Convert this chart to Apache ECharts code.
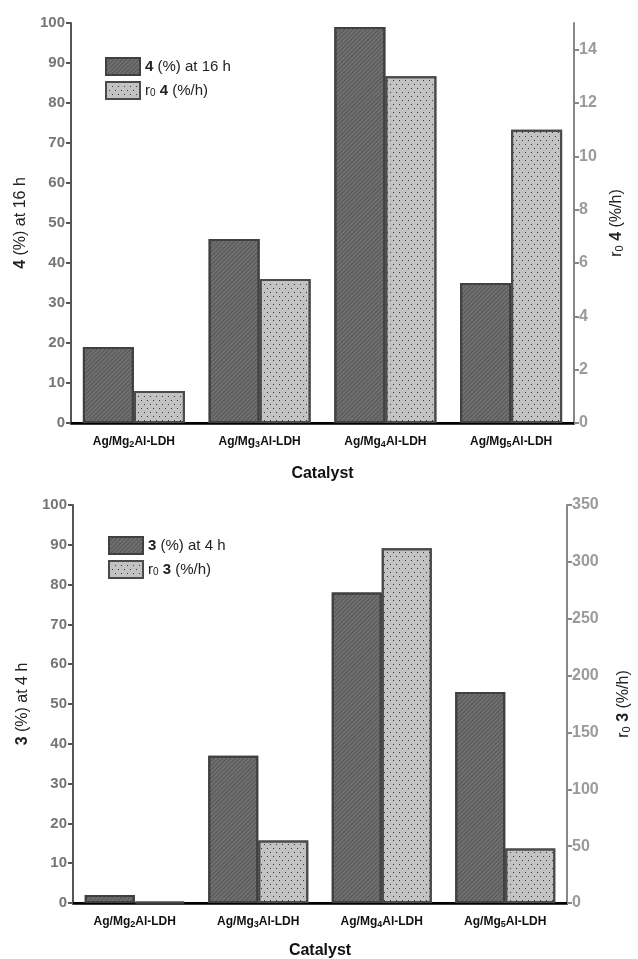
<!DOCTYPE html>
<html><head><meta charset="utf-8">
<script src="https://cdn.jsdelivr.net/npm/echarts@6/dist/echarts.min.js"></script>
<style>html,body{margin:0;padding:0;background:#fff}#c{width:638px;height:959px}</style>
</head><body><div id="c"></div>
<script>
const categories = ['Ag/Mg2Al-LDH','Ag/Mg3Al-LDH','Ag/Mg4Al-LDH','Ag/Mg5Al-LDH'];
const top_conv16h = [19, 46, 99, 35];
const top_rate = [1.2, 5.4, 13, 11];
const bot_conv4h = [2, 37, 78, 53];
const bot_rate = [1, 55, 312, 48];

const FONT = '"Liberation Sans", Arial, sans-serif';
const darkDecal = {symbol:'rect', dashArrayX:[1,0], dashArrayY:[1,2], rotation:-Math.PI/4, color:'rgba(45,45,45,0.4)'};
const dotDecal = {symbol:'rect', symbolSize:1, dashArrayX:[[1,5],[0,3,1,2]], dashArrayY:[1,3], color:'#3a3a3a'};
const darkStyle = {color:'#707070', borderColor:'#404040', borderWidth:2, decal:darkDecal};
const lightStyle = {color:'#c2c2c2', borderColor:'#4a4a4a', borderWidth:2, decal:dotDecal};

const chart = echarts.init(document.getElementById('c'), null, {renderer:'canvas'});

function xCat(gi, nameGap){
  return {type:'category', gridIndex:gi, data:categories, position:'bottom',
    axisLine:{lineStyle:{color:'#000', width:2.5}}, axisTick:{show:false},
    axisLabel:{interval:0, margin:12, color:'#111', fontFamily:FONT, fontSize:12, fontWeight:'bold',
      formatter:v=>v.replace(/Mg(\d)/,'Mg{s|$1}'),
      rich:{s:{fontSize:9, fontWeight:'bold', fontFamily:FONT, color:'#111', verticalAlign:'bottom', padding:[5,0,0,0]}}},
    name:'Catalyst', nameLocation:'middle', nameGap:nameGap,
    nameTextStyle:{fontFamily:FONT, fontSize:16, fontWeight:'bold', color:'#111'}};
}
function xTop(gi){
  return {type:'category', gridIndex:gi, data:categories, position:'top',
    axisLine:{lineStyle:{color:'#000', width:2}}, axisTick:{show:false}, axisLabel:{show:false}};
}
const nameRich = {
  b:{fontWeight:'bold', fontSize:16, fontFamily:FONT, color:'#222'},
  n:{fontSize:16, fontFamily:FONT, color:'#222'},
  s:{fontSize:11, fontFamily:FONT, color:'#222', verticalAlign:'bottom', padding:[6,0,0,0]}
};
function yLeft(gi, name, gap){
  return {type:'value', gridIndex:gi, min:0, max:100, interval:10, position:'left',
    splitLine:{show:false},
    axisLine:{show:true, lineStyle:{color:'#555', width:2}},
    axisTick:{show:true, length:5, lineStyle:{color:'#555', width:2}},
    axisLabel:{color:'#757575', fontFamily:FONT, fontSize:15, fontWeight:'bold', margin:6},
    name:name, nameLocation:'middle', nameRotate:90, nameGap:gap,
    nameTextStyle:{rich:nameRich}};
}
function yRight(gi, max, interval, name, gap){
  return {type:'value', gridIndex:gi, min:0, max:max, interval:interval, position:'right',
    splitLine:{show:false},
    axisLine:{show:true, lineStyle:{color:'#888', width:2}},
    axisTick:{show:true, length:5, lineStyle:{color:'#888', width:2}},
    axisLabel:{color:'#9a9a9a', fontFamily:FONT, fontSize:16, fontWeight:'bold', margin:5, showMaxLabel: max % interval === 0},
    name:name, nameLocation:'middle', nameRotate:90, nameGap:gap,
    nameTextStyle:{rich:nameRich}};
}
const legendRich = {b:{fontWeight:'bold', fontSize:15, fontFamily:FONT, color:'#222'},
  n:{fontSize:15, fontFamily:FONT, color:'#222'},
  s:{fontSize:10, fontFamily:FONT, color:'#222', verticalAlign:'bottom', padding:[6,0,0,0]}};
const legendNames = {
  'c16':'{b|4}{n| (%) at 16 h}', 'r4':'{n|r}{s|0}{n| }{b|4}{n| (%/h)}',
  'c4':'{b|3}{n| (%) at 4 h}', 'r3':'{n|r}{s|0}{n| }{b|3}{n| (%/h)}'
};
function legend(names, left, top){
  return {data:names, orient:'vertical', left:left, top:top, itemWidth:34, itemHeight:17, itemGap:5,
    icon:'rect', formatter:n=>legendNames[n], textStyle:{rich:legendRich}, selectedMode:false};
}

chart.setOption({
  animation:false,
  grid:[
    {left:71, right:64, top:23, height:400, outerBoundsMode:'none', containLabel:false},
    {left:73, right:71, top:505, height:398, outerBoundsMode:'none', containLabel:false}
  ],
  legend:[legend(['c16','r4'],100,52), legend(['c4','r3'],103,531)],
  xAxis:[xCat(0,43), xTop(0), xCat(1,40), xTop(1)],
  yAxis:[
    yLeft(0,'{b|4}{n| (%) at 16 h}',30),
    yRight(0,15,2,'{n|r}{s|0}{n| }{b|4}{n| (%/h)}',34),
    yLeft(1,'{b|3}{n| (%) at 4 h}',40),
    yRight(1,350,50,'{n|r}{s|0}{n| }{b|3}{n| (%/h)}',48)
  ],
  series:[
    {name:'c16', type:'bar', xAxisIndex:0, yAxisIndex:0, data:top_conv16h, barWidth:51, barGap:'0%', itemStyle:darkStyle},
    {name:'r4', type:'bar', xAxisIndex:0, yAxisIndex:1, data:top_rate, barWidth:51, barGap:'0%', itemStyle:lightStyle},
    {name:'c4', type:'bar', xAxisIndex:2, yAxisIndex:2, data:bot_conv4h, barWidth:50, barGap:'0%', itemStyle:darkStyle},
    {name:'r3', type:'bar', xAxisIndex:2, yAxisIndex:3, data:bot_rate, barWidth:50, barGap:'0%', itemStyle:lightStyle}
  ]
});
</script>
</body></html>
